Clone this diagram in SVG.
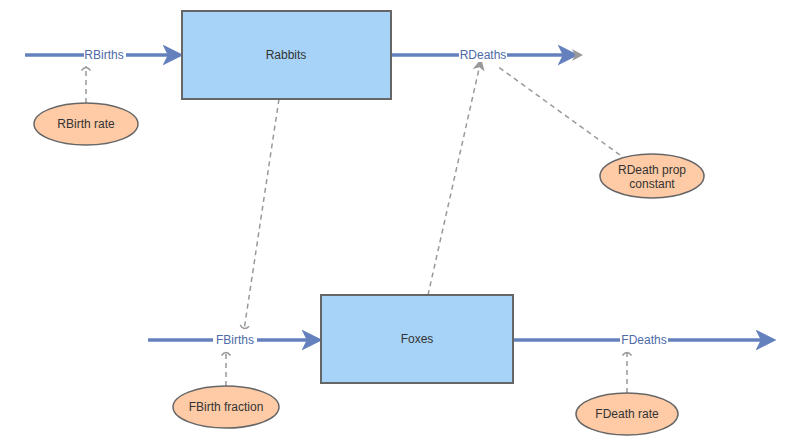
<svg xmlns="http://www.w3.org/2000/svg" width="800" height="448" viewBox="0 0 800 448">
<style>
.stock{fill:#a7d3f8;stroke:#666;stroke-width:2}
.aux{fill:#fecba6;stroke:#666;stroke-width:1.5}
.flow{stroke:#6480bd;stroke-width:3.5;fill:none}
.dep{stroke:#999;stroke-width:1.5;stroke-dasharray:5,4;fill:none}
text{font-family:"Comic Sans MS","Liberation Sans",sans-serif;font-size:12px;text-anchor:middle;dominant-baseline:central}
.fl{fill:#4e6aa8}
.lbl{fill:#fff}
</style>
<defs>
<marker id="fa" markerWidth="6" markerHeight="6" refX="5" refY="3" orient="auto" markerUnits="strokeWidth"><path d="M0,0 L6,3 L0,6 L1.5,3 z" fill="#6480bd"/></marker>
<marker id="ga" markerWidth="8" markerHeight="8" refX="7" refY="4" orient="auto" markerUnits="strokeWidth"><path d="M0,0 L8,4 L0,8 L2,4 z" fill="#999"/></marker>
<marker id="gt" markerWidth="8" markerHeight="8" refX="4" refY="4" orient="auto" markerUnits="strokeWidth"><path d="M1,1 Q5,4 1,7" fill="none" stroke="#999" stroke-width="1"/></marker>
</defs>
<g id="connectors">
<line class="flow" x1="25" y1="55" x2="180" y2="55" marker-end="url(#fa)"/>
<line class="flow" x1="391" y1="55" x2="575" y2="55" marker-end="url(#fa)"/>
<path d="M572,49 L583,55 L572,61 L575,55 z" fill="#999"/>
<line class="flow" x1="148" y1="340" x2="319" y2="340" marker-end="url(#fa)"/>
<line class="flow" x1="513" y1="340" x2="773" y2="340" marker-end="url(#fa)"/>
<line class="dep" x1="86" y1="103" x2="86" y2="66" marker-end="url(#gt)"/>
<line class="dep" x1="279" y1="99" x2="244" y2="330" marker-end="url(#gt)"/>
<line class="dep" x1="226" y1="386" x2="226" y2="351" marker-end="url(#gt)"/>
<line class="dep" x1="627" y1="393" x2="627" y2="351" marker-end="url(#gt)"/>
<line class="dep" x1="428" y1="295" x2="481" y2="60" marker-end="url(#ga)"/>
<line class="dep" x1="620" y1="155" x2="497" y2="66"/>
<rect class="lbl" x="84" y="48" width="42" height="14"/>
<text class="fl" x="104" y="55">RBirths</text>
<rect class="lbl" x="459" y="48" width="48" height="14"/>
<text class="fl" x="483" y="55">RDeaths</text>
<rect class="lbl" x="213" y="333" width="44" height="14"/>
<text class="fl" x="235" y="340">FBirths</text>
<rect class="lbl" x="620" y="333" width="48" height="14"/>
<text class="fl" x="644" y="340">FDeaths</text>
</g>
<g id="rabbits"><rect class="stock" x="182" y="11" width="209" height="88"/><text x="286" y="55" fill="#333">Rabbits</text></g>
<g id="foxes"><rect class="stock" x="321" y="295" width="192" height="88"/><text x="417" y="339" fill="#333">Foxes</text></g>
<g id="rbirthrate"><ellipse class="aux" cx="86" cy="124" rx="52" ry="21"/><text x="86" y="124" fill="#333">RBirth rate</text></g>
<g id="rdeathprop"><ellipse class="aux" cx="652" cy="176" rx="52" ry="22"/><text x="652" y="170" fill="#333">RDeath prop</text><text x="652" y="184" fill="#333">constant</text></g>
<g id="fbirthfraction"><ellipse class="aux" cx="226" cy="407" rx="53" ry="21"/><text x="226" y="407" fill="#333">FBirth fraction</text></g>
<g id="fdeathrate"><ellipse class="aux" cx="627" cy="414" rx="51" ry="21"/><text x="627" y="414" fill="#333">FDeath rate</text></g>
</svg>
